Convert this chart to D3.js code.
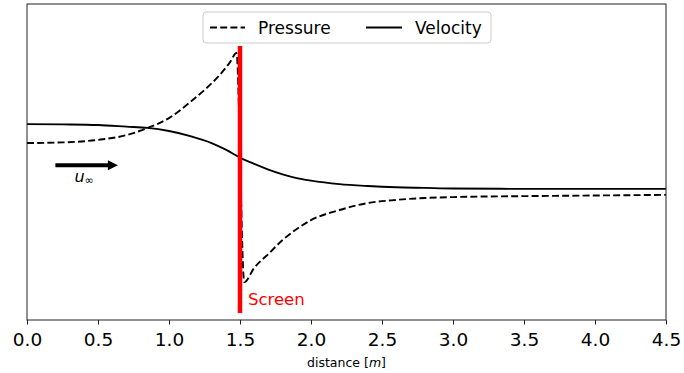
<!DOCTYPE html>
<html>
<head>
<meta charset="utf-8">
<script src="https://cdn.jsdelivr.net/npm/d3@7"></script>
<style>
  body { margin: 0; background: #fff; }
  text { font-family: "DejaVu Sans", sans-serif; }
</style>
</head>
<body>
<div id="chart"></div>
<script>
// distance [m] and normalised curve values
const pressureX = [0.0, 0.25, 0.5, 0.7, 0.85, 1.0, 1.15, 1.25, 1.35, 1.43, 1.475, 1.53, 1.6, 1.7, 1.8, 1.9, 2.0, 2.2, 2.4, 2.6, 2.8, 3.0, 3.5, 4.0, 4.5];
const pressureY = [0.560, 0.562, 0.570, 0.585, 0.608, 0.639, 0.690, 0.728, 0.772, 0.816, 0.845, 0.120, 0.165, 0.209, 0.253, 0.288, 0.316, 0.348, 0.370, 0.380, 0.386, 0.389, 0.392, 0.394, 0.396];
const velocityX = [0.0, 0.25, 0.5, 0.7, 0.85, 1.0, 1.15, 1.3, 1.4, 1.5, 1.6, 1.7, 1.8, 1.9, 2.0, 2.2, 2.4, 2.6, 2.8, 3.0, 3.5, 4.5];
const velocityY = [0.620, 0.619, 0.617, 0.612, 0.608, 0.598, 0.582, 0.560, 0.539, 0.514, 0.494, 0.476, 0.461, 0.449, 0.441, 0.430, 0.424, 0.420, 0.418, 0.416, 0.415, 0.415];
const xTicks = [0.0, 0.5, 1.0, 1.5, 2.0, 2.5, 3.0, 3.5, 4.0, 4.5];
const screenX = 1.5;
const screenSpan = [0.022, 0.867];
const arrowSpan = [0.2, 0.64];
const arrowY = 0.49;

const margin = {top: 4, right: 18, bottom: 53, left: 27},
    width = 684 - margin.left - margin.right,
    height = 373 - margin.top - margin.bottom;

const svg = d3.select("#chart")
    .append("svg")
    .attr("width", 684)
    .attr("height", 373)
    .append("g")
    .attr("transform", `translate(${margin.left}, ${margin.top})`);

const x = d3.scaleLinear().domain([0, 4.5]).range([0, width]);
const y = d3.scaleLinear().domain([0, 1]).range([height, 0]);

// x axis
const xAxis = svg.append("g")
    .attr("transform", `translate(0, ${height})`)
    .call(d3.axisBottom(x).tickValues(xTicks).tickFormat(d3.format(".1f")).tickSizeOuter(0).tickSize(4.5));
xAxis.select(".domain").remove();
xAxis.selectAll("line").attr("stroke", "#222").attr("stroke-width", 1);
xAxis.selectAll("text")
    .attr("font-size", 18.5)
    .attr("font-family", "DejaVu Sans")
    .attr("fill", "#000")
    .attr("dy", "1.0em");

svg.append("text")
    .attr("x", width / 2)
    .attr("y", height + 47)
    .attr("text-anchor", "middle")
    .attr("font-size", 12.5)
    .html('distance [<tspan font-style="italic">m</tspan>]');

// curves
const line = d3.line().x(d => x(d[0])).y(d => y(d[1])).curve(d3.curveMonotoneX);
const pressure = pressureX.map((d, i) => [d, pressureY[i]]);
const velocity = velocityX.map((d, i) => [d, velocityY[i]]);

svg.append("path")
    .datum(pressure)
    .attr("d", line)
    .attr("fill", "none")
    .attr("stroke", "#000")
    .attr("stroke-width", 1.9)
    .attr("stroke-dasharray", "7,3.2");

svg.append("path")
    .datum(velocity)
    .attr("d", line)
    .attr("fill", "none")
    .attr("stroke", "#000")
    .attr("stroke-width", 1.9);

// screen
svg.append("line")
    .attr("x1", x(screenX)).attr("x2", x(screenX))
    .attr("y1", y(screenSpan[0])).attr("y2", y(screenSpan[1]))
    .attr("stroke", "#ff0000")
    .attr("stroke-width", 4.5);
svg.append("text")
    .attr("x", x(screenX) + 8)
    .attr("y", y(screenSpan[0]) - 8)
    .attr("font-size", 16.5)
    .attr("fill", "#ff0000")
    .text("Screen");

// free stream arrow
svg.append("line")
    .attr("x1", x(arrowSpan[0])).attr("x2", x(arrowSpan[1]) - 8)
    .attr("y1", y(arrowY)).attr("y2", y(arrowY))
    .attr("stroke", "#000")
    .attr("stroke-width", 4);
svg.append("path")
    .attr("d", `M${x(arrowSpan[1])},${y(arrowY)} l-10,-5 l0,10 z`)
    .attr("fill", "#000");
const lab = svg.append("text")
    .attr("x", x(arrowSpan[0]) + 19)
    .attr("y", y(arrowY) + 17)
    .attr("font-size", 16);
lab.append("tspan").attr("font-style", "italic").text("u");
lab.append("tspan").attr("font-size", 11).attr("dy", 2).text("\u221e");

// frame
svg.append("rect")
    .attr("width", width)
    .attr("height", height)
    .attr("fill", "none")
    .attr("stroke", "#222")
    .attr("stroke-width", 1);

// legend
const leg = svg.append("g").attr("transform", `translate(${203 - margin.left}, ${12 - margin.top})`);
leg.append("rect")
    .attr("width", 288).attr("height", 31)
    .attr("rx", 3)
    .attr("fill", "#fff").attr("fill-opacity", 0.8)
    .attr("stroke", "#ccc");
leg.append("line").attr("x1", 7).attr("x2", 42).attr("y1", 15.5).attr("y2", 15.5)
    .attr("stroke", "#000").attr("stroke-width", 1.9).attr("stroke-dasharray", "7,3.2");
leg.append("text").attr("x", 55).attr("y", 21.5).attr("font-size", 17).text("Pressure");
leg.append("line").attr("x1", 163).attr("x2", 199).attr("y1", 15.5).attr("y2", 15.5)
    .attr("stroke", "#000").attr("stroke-width", 1.9);
leg.append("text").attr("x", 212).attr("y", 21.5).attr("font-size", 17).text("Velocity");
</script>
</body>
</html>
